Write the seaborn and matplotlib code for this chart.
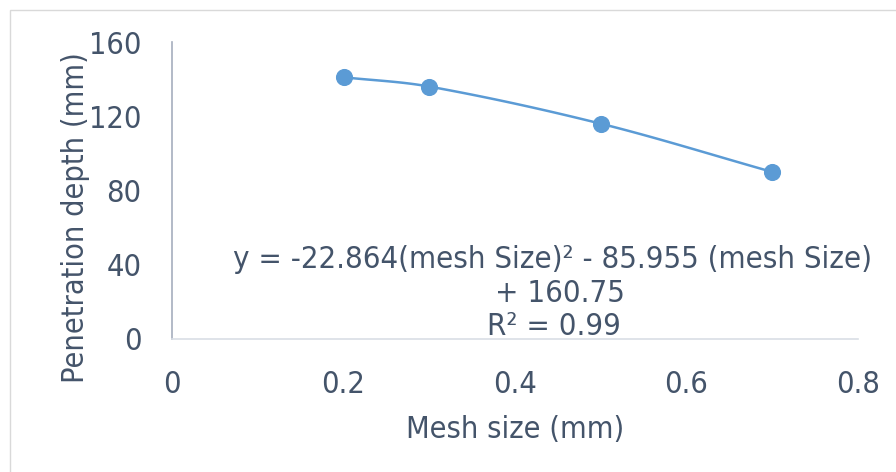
import numpy as np
import pandas as pd
import seaborn as sns
import matplotlib.pyplot as plt
from matplotlib.patches import Rectangle

mesh_size = [0.2, 0.3, 0.5, 0.7]
depth = [141, 136, 116, 90]
x_ticks = [0, 0.2, 0.4, 0.6, 0.8]
y_ticks = [0, 40, 80, 120, 160]
eq_lines = ["y = -22.864(mesh Size)² - 85.955 (mesh Size)", "+ 160.75", "R² = 0.99"]

sns.set_theme(style="white")
plt.rcParams['font.family'] = ['DejaVu Sans']
plt.rcParams['font.stretch'] = 'condensed'
txt = '#44546A'
blue = '#5B9BD5'

def smooth(x, y, n=40):
    # cubic Hermite rendering of a smoothed line through the points
    x = np.asarray(x, float); y = np.asarray(y, float)
    m = np.empty_like(y)
    m[0] = (y[1] - y[0]) / (x[1] - x[0])
    m[-1] = (y[-1] - y[-2]) / (x[-1] - x[-2])
    for i in range(1, len(x) - 1):
        m[i] = (y[i+1] - y[i-1]) / (x[i+1] - x[i-1])
    ox, oy = [], []
    for i in range(len(x) - 1):
        h = x[i+1] - x[i]
        t = np.linspace(0, 1, n)
        h00 = 2*t**3 - 3*t**2 + 1; h10 = t**3 - 2*t**2 + t
        h01 = -2*t**3 + 3*t**2; h11 = t**3 - t**2
        ox.extend(x[i] + t*h)
        oy.extend(h00*y[i] + h10*h*m[i] + h01*y[i+1] + h11*h*m[i+1])
    return np.array(ox), np.array(oy)

fig = plt.figure(figsize=(8.96, 4.72), dpi=100)
fig.patches.append(Rectangle((10/896, -0.1), 1.2, (472-10)/472 + 0.1, transform=fig.transFigure,
                             fill=False, edgecolor='#D9D9D9', linewidth=1))
ax = fig.add_axes([172/896, 1 - 339/472, (858-172)/896, (339-42)/472])

sx, sy = smooth(mesh_size, depth)
curve = pd.DataFrame({'x': sx, 'y': sy})
pts = pd.DataFrame({'mesh': mesh_size, 'depth': depth})
sns.lineplot(data=curve, x='x', y='y', ax=ax, color=blue, linewidth=1.8, sort=False)
sns.scatterplot(data=pts, x='mesh', y='depth', ax=ax, color=blue, s=130, edgecolor=blue, zorder=3)

ax.set_xlim(0, 0.8)
ax.set_ylim(0, 160)
ax.set_xticks(x_ticks)
ax.set_xticklabels([f"{v:g}" for v in x_ticks])
ax.set_yticks(y_ticks)
ax.tick_params(axis='both', length=0, labelsize=22, colors=txt)
ax.tick_params(axis='x', pad=22)
ax.tick_params(axis='y', pad=22)
for s in ['top', 'right']:
    ax.spines[s].set_visible(False)
ax.spines['left'].set_color('#A5AEBD')
ax.spines['bottom'].set_color('#D9DEE5')
ax.spines['left'].set_linewidth(1.2)
ax.spines['bottom'].set_linewidth(1.2)
ax.set_xlabel('Mesh size (mm)', fontsize=22, color=txt)
ax.set_ylabel('Penetration depth (mm)', fontsize=22, color=txt)
ax.xaxis.set_label_coords((515-172)/686, -(430-339)/297)
ax.yaxis.set_label_coords((75-172)/686, (339-218)/297)
ax.xaxis.label.set_va('center')
ax.yaxis.label.set_va('center')

for line, cx, by in zip(eq_lines, [552, 560, 554], [268, 302, 335]):
    ax.text((cx - 172)/686, (339 - by)/297, line, transform=ax.transAxes,
            ha='center', va='baseline', fontsize=22.3, color=txt)

fig.savefig('out.png', dpi=100)
